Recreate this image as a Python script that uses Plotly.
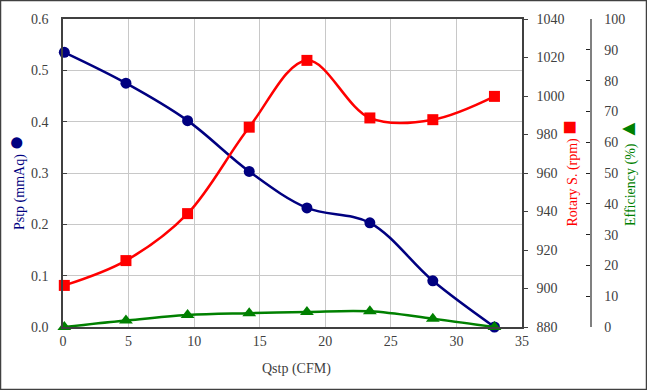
import plotly.graph_objects as go

# Data
qstp = [0.1, 4.8, 9.5, 14.2, 18.6, 23.4, 28.2, 32.9]
pstp = [0.535, 0.475, 0.402, 0.303, 0.232, 0.203, 0.090, 0.0]
rpm = [901.6, 914.5, 938.9, 983.8, 1018.5, 988.6, 987.7, 999.8]
eff = [0.0, 2.1, 3.9, 4.5, 4.9, 5.1, 2.7, 0.0]

x_ticks = [0, 5, 10, 15, 20, 25, 30, 35]

W, H = 647, 390
ML, MR, MT, MB = 63, 0, 19, 63
PW = W - ML - MR
PH = H - MT - MB


def px_x(p):
    return (p - ML) / PW


def px_y(p):
    return (H - MB - p) / PH


FONT = "Liberation Serif"
TICKC = "#404040"
NAVY = "#000080"
RED = "#FF0000"
GREEN = "#008000"

fig = go.Figure()
fig.add_trace(go.Scatter(
    x=qstp, y=pstp, mode="lines+markers", yaxis="y",
    line=dict(color=NAVY, width=2.5, shape="spline"),
    marker=dict(symbol="circle", size=11, color=NAVY),
    cliponaxis=False, showlegend=False))
fig.add_trace(go.Scatter(
    x=qstp, y=rpm, mode="lines+markers", yaxis="y2",
    line=dict(color=RED, width=2.5, shape="spline"),
    marker=dict(symbol="square", size=11, color=RED),
    cliponaxis=False, showlegend=False))
fig.add_trace(go.Scatter(
    x=qstp, y=eff, mode="lines+markers", yaxis="y3",
    line=dict(color=GREEN, width=2.5, shape="spline"),
    marker=dict(symbol="triangle-up", size=12, color=GREEN),
    cliponaxis=False, showlegend=False))

tickfont = dict(family=FONT, size=14, color=TICKC)

fig.update_layout(
    width=W, height=H,
    font=dict(family=FONT, size=14, color=TICKC),
    margin=dict(l=ML, r=MR, t=MT, b=MB, pad=0, autoexpand=False),
    paper_bgcolor="white", plot_bgcolor="white",
    xaxis=dict(domain=[0, (522 - ML) / PW], range=[0, 35], automargin=False,
               tickvals=x_ticks, showgrid=True, gridcolor="#c8c8c8", gridwidth=1,
               showline=True, linecolor="#404040", linewidth=1.5, mirror=True,
               ticks="", zeroline=False, tickfont=tickfont),
    yaxis=dict(range=[0, 0.6], dtick=0.1, tickformat=".1f", automargin=False,
               showgrid=True, gridcolor="#c8c8c8", gridwidth=1,
               showline=True, linecolor="#404040", linewidth=1.5,
               ticks="inside", ticklen=4, tickcolor="#404040",
               ticklabelstandoff=10, zeroline=False, tickfont=tickfont),
    yaxis2=dict(overlaying="y", side="right", anchor="x", automargin=False,
                range=[880, 1040], dtick=20, showgrid=False,
                showline=True, linecolor="#404040", linewidth=1.5,
                ticks="outside", ticklen=4, tickcolor="#404040",
                ticklabelstandoff=6, zeroline=False, tickfont=tickfont),
    yaxis3=dict(overlaying="y", side="right", anchor="free", automargin=False,
                position=px_x(590.7), range=[0, 100], dtick=10, showgrid=False,
                showline=True, linecolor="#808080", linewidth=1.5,
                ticks="inside", ticklen=4, tickcolor="#202020",
                ticklabelstandoff=10, zeroline=False, tickfont=tickfont),
    annotations=[
        dict(text="Pstp (mmAq) <span style='font-size:26px'>●</span>",
             xref="paper", yref="paper", x=px_x(15), y=px_y(183),
             textangle=-90, showarrow=False, xanchor="center", yanchor="middle",
             font=dict(family=FONT, size=14, color=NAVY)),
        dict(text="Rotary S. (rpm) <span style='font-size:24px'>■</span>",
             xref="paper", yref="paper", x=px_x(568), y=px_y(173.5),
             textangle=-90, showarrow=False, xanchor="center", yanchor="middle",
             font=dict(family=FONT, size=14, color=RED)),
        dict(text="Efficiency (%) <span style='font-size:22px'>▲</span>",
             xref="paper", yref="paper", x=px_x(627), y=px_y(172),
             textangle=-90, showarrow=False, xanchor="center", yanchor="middle",
             font=dict(family=FONT, size=14, color=GREEN)),
        dict(text="Qstp (CFM)", xref="paper", yref="paper",
             x=px_x(296), y=px_y(369), showarrow=False,
             xanchor="center", yanchor="middle",
             font=dict(family=FONT, size=14, color=TICKC)),
    ],
    shapes=[dict(type="rect", xref="paper", yref="paper",
                 x0=px_x(0.5), x1=px_x(646.5), y0=px_y(389.5), y1=px_y(0.5),
                 line=dict(color="#404040", width=1.5), fillcolor="rgba(0,0,0,0)")],
)

fig.write_html("out.html", config={"displayModeBar": False},
               post_script="document.body.style.margin='0';document.body.style.padding='0';")
